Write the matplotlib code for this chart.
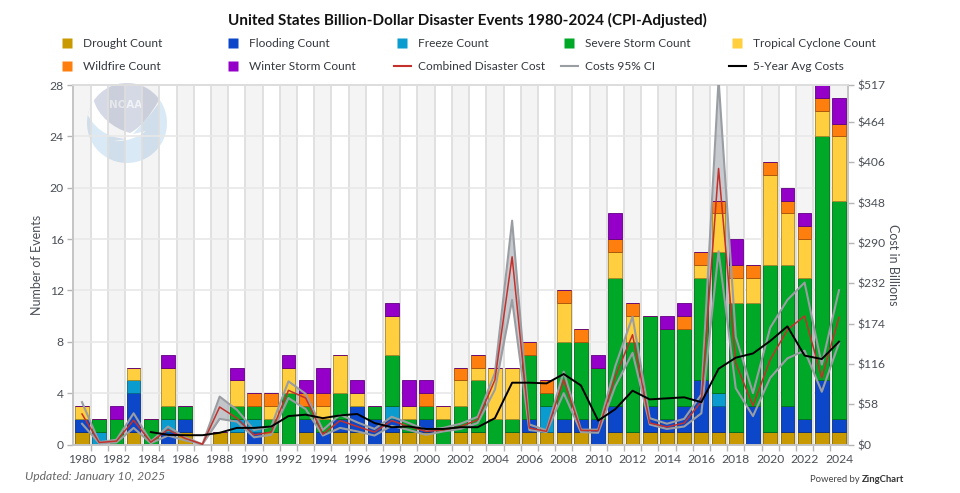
import matplotlib
matplotlib.use("Agg")
import matplotlib.pyplot as plt
import numpy as np
from matplotlib.lines import Line2D
from matplotlib.patches import Circle, PathPatch
from matplotlib.path import Path
from matplotlib.colors import to_rgb

plt.rcParams['font.family'] = ['Lato', 'DejaVu Sans']

years = list(range(1980, 2025))
drought = [1,0,0,1,0,0,1,0,1,1,0,1,0,1,0,1,1,0,1,1,1,0,1,1,0,1,1,1,1,1,0,1,1,1,1,1,1,1,1,0,1,1,1,1,1]
flooding = [1,0,0,3,0,1,1,0,0,0,1,0,0,1,1,1,2,2,1,0,1,0,0,0,0,0,1,0,1,1,2,2,0,2,1,2,4,2,0,3,0,2,1,4,1]
freeze = [0,1,0,1,0,1,0,0,0,1,1,0,0,0,0,0,0,0,1,0,0,0,0,0,0,0,0,2,0,0,0,0,0,0,0,0,0,1,0,0,0,0,0,0,0]
severe = [0,1,2,0,2,1,1,0,0,1,1,1,4,1,1,2,0,1,4,1,1,2,2,4,2,1,5,1,6,6,4,10,7,7,7,6,8,11,10,8,13,11,11,19,17]
tropical = [1,0,0,1,0,3,0,0,0,2,0,1,2,0,1,3,1,0,3,1,0,1,2,1,4,4,0,0,3,0,0,2,2,0,0,0,1,3,2,2,7,4,3,2,5]
wildfire = [0,0,0,0,0,0,0,0,0,0,1,1,0,1,1,0,0,0,0,0,1,0,1,1,0,0,1,1,1,1,0,1,1,0,0,1,1,1,1,1,1,1,1,1,1]
winter = [0,0,1,0,0,1,0,0,0,1,0,0,1,1,2,0,1,0,1,2,1,0,0,0,0,0,0,0,0,0,1,2,0,0,1,1,0,0,2,0,0,1,1,1,2]

cost = [44,3,5,35,3.5,21.5,9,0.5,54,38,14,18,78,67,15,34.5,26,18,34.5,26,19,21,26,35.5,93,270,24,19,93,20.5,20,98,158,31,25.4,31,62,397,117,56,122,165,185,96,183]
cost_hi = [61,3.5,7,45,4.5,26,10.5,0.5,69,50,21,26,91,73,21,43,32,22.5,40,31,21,24,30,40,103,322,29,20.5,105,21.5,21.5,113,184,38,30,37,72,525,155,74,168,208,233,115,222]
cost_lo = [30,2,3,24,2,13,6,0.5,37,33,10.5,14,67,51,13,24,19,13,27,21,14,19,22.5,31,79,208,21,18,74,18,17,84,132,29,22.5,26,45,278,81,41,96,124,135,76,146]
avg5_years = years[4:]
avg5 = [18,14,13.5,13.5,17,24,24,26,41,43,38,42,44,31,25,26,22.5,22.5,25,25,38,89,89,88,101.5,85,34.5,51,77.5,65,66.5,68,61,109,125,131,149,170,128,123,148]

left_ticks = [0,4,8,12,16,20,24,28]
right_ticks = [0,58,116,174,232,290,348,406,464,517]
bar_series = [
    ("Drought Count", drought, "#c99a00"),
    ("Flooding Count", flooding, "#0d47c9"),
    ("Freeze Count", freeze, "#0a9bcf"),
    ("Severe Storm Count", severe, "#00a827"),
    ("Tropical Cyclone Count", tropical, "#ffcf40"),
    ("Wildfire Count", wildfire, "#ff7f0e"),
    ("Winter Storm Count", winter, "#9500c8"),
]
RED, GRAY, BLACK = "#c4302b", "#9a9ea3", "#000000"
TXT = "#4a4f57"

W, H = 960, 493
fig = plt.figure(figsize=(W/100, H/100), dpi=100, facecolor="white")

# NOAA watermark, behind the plot
bg = fig.add_axes([0, 0, 1, 1], zorder=0)
bg.set_xlim(0, W); bg.set_ylim(H, 0); bg.axis("off")
circ = Circle((127, 123), 40, fc="#d9e9f5", ec="none")
bg.add_patch(circ)
M, C, L, Z = Path.MOVETO, Path.CURVE4, Path.LINETO, Path.CLOSEPOLY
white_v = [(80,100),(86,112),(93,126),(105,138),(127,139),(114,141),(125,142),(137,138),(146,131),
           (133,134),(142,124),(152,114),(163,97),(170,70),(80,70),(80,100)]
white_c = [M,L,C,C,C,L,C,C,C,L,C,C,C,L,L,Z]
wh = PathPatch(Path(white_v, white_c), fc="white", ec="none")
bg.add_patch(wh); wh.set_clip_path(circ)
grey_v = [(94,101),(98,115),(112,128),(130,133),(140,128),(150,116),(159,100),(160,70),(94,70),(94,101)]
grey_c = [M,C,C,C,C,C,C,L,L,Z]
gr = PathPatch(Path(grey_v, grey_c), fc="#d5d9e6", ec="none")
bg.add_patch(gr); gr.set_clip_path(circ)
bg.text(126, 105, "NOAA", ha="center", va="center", color="#f0f2f6", fontsize=7.5, fontweight="bold",
        family=["DejaVu Sans"])

# plot area
L_, R_, T_, B_ = 73.4, 847.6, 85.0, 444.6
ax = fig.add_axes([L_/W, 1-B_/H, (R_-L_)/W, (B_-T_)/H], zorder=1)
ax.patch.set_alpha(0)
x = np.arange(len(years))
ax.set_xlim(-0.5, len(years)-0.5)
ax.set_ylim(0, 28)
for i in x[::2]:
    ax.axvspan(i-0.5, i+0.5, color="black", alpha=0.045, lw=0, zorder=0)
ax.set_axisbelow(True)
ax.set_yticks(left_ticks)
ax.grid(axis="y", color="#e8e8e8", lw=1.2, zorder=0.5)
ax.set_xticks(x[::2])
ax.set_xticklabels([str(y) for y in years[::2]])
ax.set_xticks(x[:-1]+0.5, minor=True)
ax.grid(axis="x", which="minor", color="#dedede", lw=1.3, zorder=0.5)
ax.tick_params(axis="x", which="major", length=0, pad=7, labelsize=8.7, labelcolor=TXT)
ax.tick_params(axis="x", which="minor", length=4, width=1, color="#b5b5b5")
ax.tick_params(axis="y", length=4, width=1, color="#b5b5b5", labelsize=8.7, labelcolor=TXT, pad=3)

bottom = np.zeros(len(years))
for name, vals, col in bar_series:
    v = np.array(vals, float)
    edge = tuple(c*0.65 for c in to_rgb(col))
    ax.bar(x, v, bottom=bottom, width=0.8, color=col, edgecolor=edge, linewidth=0.6, zorder=2, label=name)
    bottom += v

ax.set_ylabel("Number of Events", fontsize=9, color=TXT, va="center")
ax.yaxis.set_label_coords((37-L_)/(R_-L_), 0.5)

ax2 = ax.twinx()
ax2.set_zorder(2)
ax2.patch.set_alpha(0)
ax2.set_ylim(0, 517)
ax2.set_yticks(right_ticks)
ax2.set_yticklabels([f"${t}" for t in right_ticks])
ax2.tick_params(axis="y", length=4, width=1, color="#b5b5b5", labelsize=8.7, labelcolor=TXT, pad=3)
# the confidence band lies behind the bars, its borders and the cost lines in front
ax.fill_between(x, cost_lo, cost_hi, color="#9aa0a6", alpha=0.55, lw=0, zorder=1.5, transform=ax2.transData)
ax2.plot(x, cost_hi, color=GRAY, lw=1.5, zorder=4)
ax2.plot(x, cost_lo, color=GRAY, lw=1.5, zorder=4)
ax2.plot(x, cost, color=RED, lw=1.1, zorder=5)
ax2.plot(x[4:], avg5, color=BLACK, lw=1.4, zorder=6)
ax2.set_ylabel("Cost in Billions", fontsize=9, color=TXT, rotation=270, va="center")
ax2.yaxis.set_label_coords((893-L_)/(R_-L_), 0.5)

for a in (ax, ax2):
    for sp in a.spines.values():
        sp.set_color("#c4c4c4"); sp.set_linewidth(1.2)
ax2.spines["top"].set_color("#dddddd"); ax.spines["top"].set_color("#dddddd")

# title
fig.text(467/W, 1-20/H, "United States Billion-Dollar Disaster Events 1980-2024 (CPI-Adjusted)",
         ha="center", va="center", fontsize=11, fontweight="bold", color="#111111")

# legend: five columns of two rows
def sq(c):
    return Line2D([], [], color="none", marker="s", ms=6.5, mfc=c, mec="none")
def ln(c, w=1.5):
    return Line2D([], [], color=c, lw=w)
cols = [
    (58.5, [(sq(bar_series[0][2]), bar_series[0][0]), (sq(bar_series[5][2]), bar_series[5][0])]),
    (224.5, [(sq(bar_series[1][2]), bar_series[1][0]), (sq(bar_series[6][2]), bar_series[6][0])]),
    (393.5, [(sq(bar_series[2][2]), bar_series[2][0]), (ln(RED), "Combined Disaster Cost")]),
    (560.5, [(sq(bar_series[3][2]), bar_series[3][0]), (ln(GRAY), "Costs 95% CI")]),
    (728.5, [(sq(bar_series[4][2]), bar_series[4][0]), (ln(BLACK), "5-Year Avg Costs")]),
]
for px, items in cols:
    fig.legend(handles=[i[0] for i in items], labels=[i[1] for i in items],
               loc="upper left", bbox_to_anchor=(px/W, 1-38.2/H), bbox_transform=fig.transFigure,
               frameon=False, fontsize=8.6, labelcolor="#33383f", handlelength=1.48, handletextpad=0.58,
               labelspacing=1.0, borderpad=0, borderaxespad=0)

# footer
fig.text(25/W, 1-477/H, "Updated: January 10, 2025", ha="left", va="center", fontsize=8.7, style="italic", color="#666666")
fig.text(810/W, 1-479/H, "Powered by", ha="left", va="center", fontsize=6.8, color="#444444")
fig.text(862/W, 1-479/H, "ZingChart", ha="left", va="center", fontsize=6.8, fontweight="bold", color="#333333")

fig.savefig("out.png", dpi=100, facecolor="white")
